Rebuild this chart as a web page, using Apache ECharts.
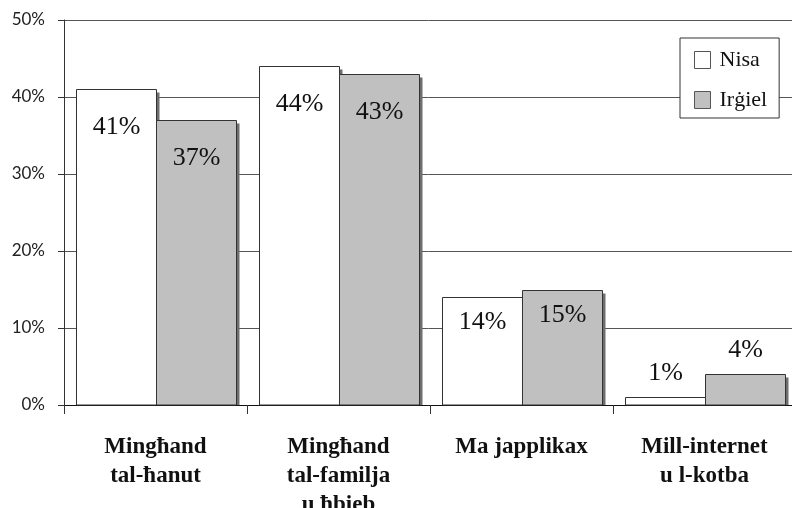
<!DOCTYPE html>
<html>
<head>
<meta charset="utf-8">
<script src="https://cdn.jsdelivr.net/npm/echarts@6/dist/echarts.min.js"></script>
<style>
  html, body { margin: 0; padding: 0; background: #ffffff; }
  #chart { width: 792px; height: 508px; }
</style>
</head>
<body>
<div id="chart"></div>
<script>
// Where people get their information: women vs men (percent)
const categories = [
  'Mingħand\ntal-ħanut',
  'Mingħand\ntal-familja\nu ħbieb',
  'Ma japplikax',
  'Mill-internet\nu l-kotba'
];
const seriesNames = ['Nisa', 'Irġiel'];
const women = [41, 44, 14, 1];
const men = [37, 43, 15, 4];
const yTicks = [0, 10, 20, 30, 40, 50];

const BAR_W = 80;        // width of each bar in a pair
const SHADOW = 3;        // drop-shadow offset to the lower right
const LABEL_FONT = '26px "Liberation Serif", serif';

// vertical offset of the value label centre from the bar top
function labelDy(v) {
  if (v >= 30) return 38;
  if (v >= 10) return 25;
  return -24;
}

function makeRender(slot, fill) {
  return function (params, api) {
    const cat = api.value(0);
    const v = api.value(1);
    const base = api.coord([cat, 0]);
    const top = api.coord([cat, v]);
    const x = Math.round(base[0] - BAR_W + slot * BAR_W) + 0.5;
    const yTop = Math.round(top[1]) + 0.5;
    const yBot = Math.round(base[1]);
    const h = yBot - yTop;
    return {
      type: 'group',
      children: [
        {
          type: 'rect',
          shape: { x: x + SHADOW, y: yTop + SHADOW, width: BAR_W, height: Math.max(0, h - SHADOW) },
          style: { fill: '#6e6e6e' }
        },
        {
          type: 'rect',
          shape: { x: x, y: yTop, width: BAR_W, height: h },
          style: { fill: fill, stroke: '#333333', lineWidth: 1 }
        },
        {
          type: 'text',
          x: x + BAR_W / 2,
          y: yTop + labelDy(v),
          style: {
            text: v + '%',
            font: LABEL_FONT,
            fill: '#111111',
            align: 'center',
            verticalAlign: 'middle'
          }
        }
      ]
    };
  };
}

function pairSeries(slot, name, values, fill) {
  return {
    name: name,
    type: 'custom',
    renderItem: makeRender(slot, fill),
    itemStyle: { color: fill, borderColor: '#555555', borderWidth: 1 },
    encode: { x: 0, y: 1 },
    data: values.map((v, i) => [i, v]),
    z: 2 + slot
  };
}

const chart = echarts.init(document.getElementById('chart'), null, { renderer: 'canvas' });
chart.setOption({
  animation: false,
  backgroundColor: '#ffffff',
  grid: {
    left: 64, top: 20, width: 732, height: 385,
    containLabel: false,
    outerBoundsMode: 'none'
  },
  legend: {
    data: seriesNames,
    orient: 'vertical',
    left: 680,
    top: 38,
    padding: [11, 12, 7, 14],
    itemGap: 18,
    itemWidth: 16,
    itemHeight: 17,
    icon: 'rect',
    backgroundColor: '#ffffff',
    borderColor: '#333333',
    borderWidth: 1,
    itemStyle: { borderColor: '#555555', borderWidth: 1 },
    textStyle: {
      fontFamily: '"Liberation Serif", serif',
      fontSize: 22,
      color: '#111111',
      padding: [0, 0, 0, 4]
    }
  },
  xAxis: {
    type: 'category',
    data: categories,
    axisLine: { lineStyle: { color: '#111111', width: 1 } },
    axisTick: { show: true, length: 9, interval: 0, lineStyle: { color: '#333333' } },
    axisLabel: {
      interval: 0,
      margin: 28,
      fontFamily: '"Liberation Serif", serif',
      fontWeight: 'bold',
      fontSize: 23,
      lineHeight: 29,
      color: '#111111',
      verticalAlign: 'top'
    }
  },
  yAxis: {
    type: 'value',
    min: yTicks[0],
    max: yTicks[yTicks.length - 1],
    interval: 10,
    axisLine: { show: true, lineStyle: { color: '#333333', width: 1 } },
    axisTick: { show: true, length: 6, lineStyle: { color: '#333333' } },
    axisLabel: {
      formatter: '{value}%',
      margin: 19,
      fontFamily: 'Lato, sans-serif',
      fontSize: 17,
      color: '#222222'
    },
    splitLine: { show: true, lineStyle: { color: '#555555', width: 1 } }
  },
  series: [
    pairSeries(0, seriesNames[0], women, '#ffffff'),
    pairSeries(1, seriesNames[1], men, '#c0c0c0')
  ]
});
</script>
</body>
</html>
